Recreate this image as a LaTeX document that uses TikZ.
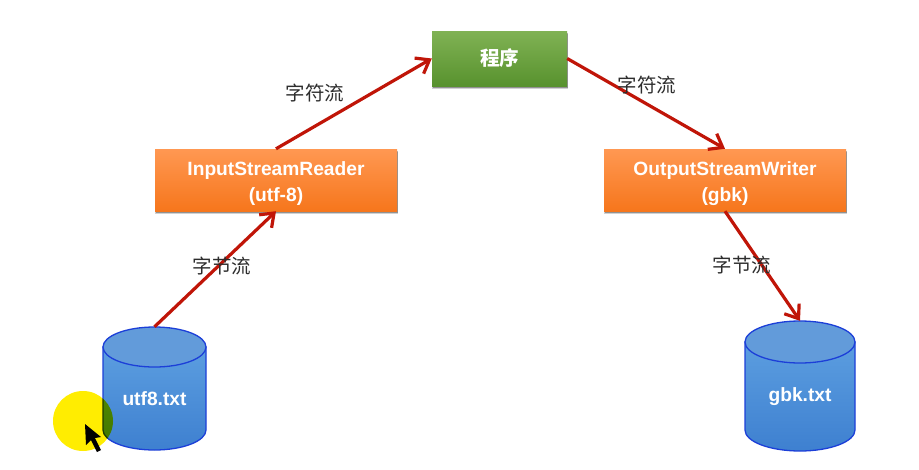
\documentclass[tikz,border=0pt]{standalone}
\usepackage{fontspec}
\setmainfont{Liberation Sans}
\newfontfamily\cjk{Noto Sans CJK SC}
\usetikzlibrary{arrows.meta,shadows,calc}
\definecolor{arrowred}{HTML}{C01508}
\definecolor{cylline}{HTML}{1C3FD8}
\tikzset{
  x=1pt,y=-1pt,
  boxbase/.style={rectangle,inner sep=0pt,align=center,text=white,
    font=\fontsize{19.2}{26}\selectfont\bfseries,
    general shadow={shadow xshift=0.5pt,shadow yshift=-3pt,opacity=.18,fill=black,shadow scale=1.006},
    general shadow={shadow xshift=0.5pt,shadow yshift=-1.5pt,opacity=.3,fill=black}},
  orangebox/.style={boxbase,minimum width=242pt,minimum height=62pt,
    top color={rgb,255:red,255;green,152;blue,82},bottom color={rgb,255:red,246;green,118;blue,28}},
  greenbox/.style={boxbase,minimum width=135pt,minimum height=55pt,
    top color={rgb,255:red,128;green,178;blue,84},bottom color={rgb,255:red,88;green,146;blue,46},
    font=\fontsize{19.5}{22}\selectfont\cjk\bfseries},
  flow/.style={draw=arrowred,line width=3.2pt,-{Straight Barb[length=12pt,width=18pt,line width=3.2pt]}},
  flowlabel/.style={inner sep=0pt,text={rgb,255:red,45;green,45;blue,45},font=\fontsize{19.5}{20}\selectfont\cjk},
  cylbody/.style={draw=cylline,line width=1.3pt,top color={rgb,255:red,92;green,158;blue,224},bottom color={rgb,255:red,62;green,128;blue,208}},
  cyltop/.style={draw=cylline,line width=1.3pt,fill={rgb,255:red,98;green,155;blue,218}},
  cyltext/.style={rectangle,inner sep=0pt,text=white,font=\fontsize{19.2}{20}\selectfont\bfseries}
}
\begin{document}
\begin{tikzpicture}
\useasboundingbox (0,0) rectangle (919,469);
\fill[white] (0,0) rectangle (919,469);
% left cylinder
\path[cylbody] (103,347) -- (103,430) arc[start angle=180,end angle=360,x radius=51.5,y radius=-20] -- (206,347) -- cycle;
\path[cyltop] (154.5,347) ellipse[x radius=51.5,y radius=20];
\node[cyltext,minimum width=103pt,minimum height=123pt] (src) at (154.5,388.5) {};
\node[cyltext] (srct) at (154.5,399) {utf8.txt};
% right cylinder
\path[cylbody] (745,342) -- (745,430) arc[start angle=180,end angle=360,x radius=55,y radius=-21] -- (855,342) -- cycle;
\path[cyltop] (800,342) ellipse[x radius=55,y radius=21];
\node[cyltext,minimum width=110pt,minimum height=130pt] (dst) at (800,386) {};
\node[cyltext] (dstt) at (800,397) {gbk.txt};
% boxes
\node[orangebox] (reader) at (276,180) {\rule{0pt}{21pt}InputStreamReader\\(utf-8)};
\node[orangebox] (writer) at (725,180) {\rule{0pt}{21pt}OutputStreamWriter\\(gbk)};
\node[greenbox] (prog) at (499.5,58.5) {程序};
% arrows
\draw[flow] (src.north) -- (reader.south);
\draw[flow] (reader.north) -- (prog.west);
\draw[flow] (prog.east) -- (writer.north);
\draw[flow] (writer.south) -- (dst.north);
% labels
\node[flowlabel] (l1) at (315,93) {字符流};
\node[flowlabel] (l2) at (647,85) {字符流};
\node[flowlabel] (l3) at (222,266) {字节流};
\node[flowlabel] (l4) at (742,265) {字节流};
% pointer highlight
\begin{scope}[blend mode=multiply]
\fill[yellow!95!orange] (83,421) circle[radius=30];
\end{scope}
\fill[black] (85,424) -- (86,445) -- (91,440) -- (97,452) -- (101,450) -- (95,438) -- (101,437) -- cycle;
\end{tikzpicture}
\end{document}
